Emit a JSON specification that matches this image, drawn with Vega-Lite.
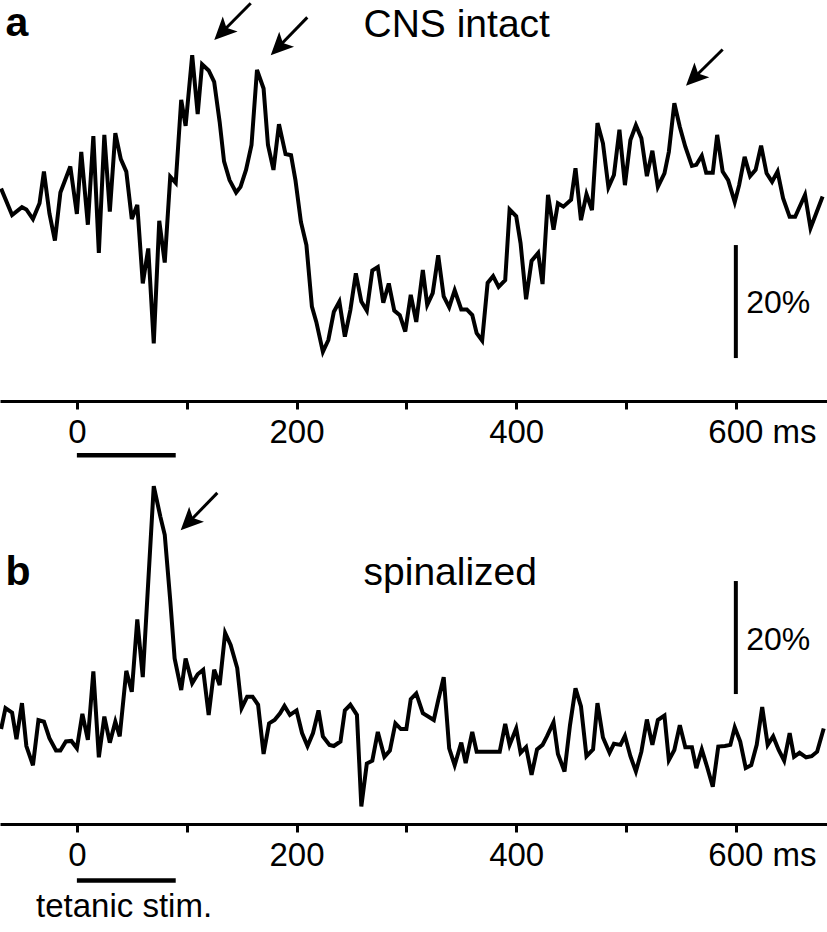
{
  "$schema": "https://vega.github.io/schema/vega-lite/v6.json",
  "padding": {"left": -7, "top": 0, "right": 0, "bottom": 0},
  "background": "white",
  "bounds": "flush",
  "spacing": 69,
  "config": {"view": {"stroke": null}, "font": "Liberation Sans"},
  "datasets": {
    "traceA": [
      {"t":-69,"v":37.6},{"t":-59,"v":32.9},{"t":-50,"v":34.3},{"t":-46,"v":33.9},{"t":-40,"v":32.2},{"t":-34,"v":35.0},{"t":-30,"v":40.6},{"t":-25,"v":33.2},{"t":-20,"v":28.4},{"t":-15,"v":36.9},{"t":-6,"v":41.5},{"t":0,"v":33.1},{"t":4,"v":44.1},{"t":10,"v":31.2},{"t":15,"v":46.9},{"t":20,"v":26.2},{"t":25,"v":47.1},{"t":30,"v":33.5},{"t":35,"v":47.4},{"t":40,"v":42.8},{"t":45,"v":40.6},{"t":50,"v":32.2},{"t":55,"v":34.7},{"t":60,"v":20.8},{"t":65,"v":27.0},{"t":70,"v":10.2},{"t":75,"v":31.9},{"t":80,"v":24.5},{"t":85,"v":39.7},{"t":90,"v":38.6},{"t":95,"v":53.3},{"t":99,"v":48.7},{"t":105,"v":61.2},{"t":110,"v":50.8},{"t":114,"v":59.6},{"t":120,"v":58.5},{"t":125,"v":56.5},{"t":130,"v":49.4},{"t":134,"v":42.4},{"t":139,"v":39.1},{"t":145,"v":36.9},{"t":149,"v":37.9},{"t":154,"v":40.9},{"t":159,"v":45.3},{"t":164,"v":58.6},{"t":170,"v":55.3},{"t":174,"v":45.3},{"t":179,"v":40.9},{"t":184,"v":49.0},{"t":190,"v":43.7},{"t":195,"v":43.5},{"t":199,"v":39.1},{"t":204,"v":31.7},{"t":209,"v":27.6},{"t":214,"v":16.7},{"t":218,"v":14.0},{"t":224,"v":8.7},{"t":229,"v":10.8},{"t":234,"v":15.8},{"t":239,"v":17.6},{"t":244,"v":11.4},{"t":249,"v":16.1},{"t":254,"v":22.6},{"t":259,"v":17.6},{"t":264,"v":16.0},{"t":269,"v":23.1},{"t":274,"v":23.7},{"t":279,"v":17.4},{"t":284,"v":20.8},{"t":289,"v":16.0},{"t":294,"v":15.2},{"t":299,"v":12.3},{"t":304,"v":18.8},{"t":309,"v":14.0},{"t":315,"v":23.2},{"t":319,"v":17.0},{"t":324,"v":19.1},{"t":329,"v":25.8},{"t":334,"v":18.5},{"t":339,"v":16.6},{"t":344,"v":19.6},{"t":350,"v":16.2},{"t":355,"v":16.2},{"t":360,"v":15.2},{"t":364,"v":12.0},{"t":369,"v":10.7},{"t":374,"v":20.9},{"t":379,"v":22.1},{"t":384,"v":20.2},{"t":390,"v":21.4},{"t":394,"v":33.9},{"t":400,"v":32.7},{"t":404,"v":27.9},{"t":409,"v":18.0},{"t":414,"v":24.8},{"t":420,"v":26.2},{"t":424,"v":20.7},{"t":429,"v":36.5},{"t":434,"v":30.3},{"t":438,"v":35.0},{"t":443,"v":34.4},{"t":450,"v":35.6},{"t":454,"v":41.2},{"t":459,"v":32.0},{"t":464,"v":36.6},{"t":469,"v":33.8},{"t":474,"v":49.2},{"t":479,"v":45.6},{"t":484,"v":37.8},{"t":489,"v":40.0},{"t":494,"v":48.0},{"t":499,"v":38.2},{"t":504,"v":46.2},{"t":509,"v":48.8},{"t":514,"v":46.5},{"t":519,"v":39.8},{"t":524,"v":44.3},{"t":529,"v":37.9},{"t":535,"v":40.3},{"t":539,"v":44.1},{"t":544,"v":52.7},{"t":549,"v":48.5},{"t":554,"v":45.0},{"t":560,"v":41.6},{"t":564,"v":41.8},{"t":569,"v":43.4},{"t":573,"v":40.4},{"t":579,"v":40.4},{"t":583,"v":47.1},{"t":588,"v":40.6},{"t":593,"v":39.1},{"t":599,"v":35.2},{"t":603,"v":38.2},{"t":608,"v":43.2},{"t":613,"v":39.8},{"t":618,"v":40.9},{"t":623,"v":45.2},{"t":628,"v":40.3},{"t":633,"v":38.8},{"t":638,"v":40.6},{"t":643,"v":35.9},{"t":649,"v":32.6},{"t":654,"v":32.6},{"t":663,"v":36.5},{"t":668,"v":30.6},{"t":679,"v":36.2}
    ],
    "traceB": [
      {"t":-69,"v":16.8},{"t":-65,"v":20.5},{"t":-59,"v":19.7},{"t":-55,"v":15.0},{"t":-50,"v":21.4},{"t":-46,"v":13.8},{"t":-40,"v":10.4},{"t":-35,"v":18.4},{"t":-30,"v":18.1},{"t":-25,"v":15.2},{"t":-19,"v":13.0},{"t":-15,"v":13.0},{"t":-10,"v":14.6},{"t":-5,"v":14.7},{"t":0,"v":13.4},{"t":5,"v":19.5},{"t":10,"v":14.9},{"t":15,"v":27.0},{"t":20,"v":11.8},{"t":25,"v":19.0},{"t":30,"v":14.4},{"t":35,"v":18.1},{"t":39,"v":15.5},{"t":45,"v":27.1},{"t":50,"v":23.4},{"t":55,"v":36.2},{"t":60,"v":26.0},{"t":70,"v":59.8},{"t":76,"v":54.4},{"t":80,"v":51.2},{"t":85,"v":39.6},{"t":89,"v":29.3},{"t":95,"v":23.7},{"t":99,"v":29.3},{"t":105,"v":24.9},{"t":110,"v":26.5},{"t":115,"v":27.3},{"t":120,"v":19.3},{"t":125,"v":27.3},{"t":130,"v":24.6},{"t":135,"v":33.8},{"t":140,"v":31.7},{"t":146,"v":27.6},{"t":150,"v":20.5},{"t":155,"v":22.5},{"t":160,"v":22.5},{"t":165,"v":21.1},{"t":170,"v":12.4},{"t":175,"v":17.8},{"t":180,"v":18.4},{"t":185,"v":19.6},{"t":189,"v":20.9},{"t":194,"v":19.3},{"t":200,"v":20.1},{"t":205,"v":16.1},{"t":210,"v":13.8},{"t":215,"v":16.1},{"t":220,"v":20.1},{"t":224,"v":15.5},{"t":230,"v":14.0},{"t":234,"v":13.8},{"t":240,"v":14.6},{"t":244,"v":20.1},{"t":249,"v":21.1},{"t":255,"v":19.3},{"t":259,"v":3.1},{"t":264,"v":10.7},{"t":269,"v":11.2},{"t":274,"v":16.3},{"t":280,"v":11.9},{"t":285,"v":13.0},{"t":290,"v":17.8},{"t":295,"v":16.8},{"t":300,"v":16.8},{"t":304,"v":22.1},{"t":309,"v":23.1},{"t":315,"v":19.6},{"t":325,"v":18.4},{"t":329,"v":21.9},{"t":334,"v":26.0},{"t":339,"v":13.4},{"t":344,"v":10.4},{"t":350,"v":14.4},{"t":354,"v":10.8},{"t":360,"v":16.3},{"t":364,"v":12.8},{"t":370,"v":12.8},{"t":378,"v":12.8},{"t":385,"v":12.8},{"t":390,"v":17.7},{"t":394,"v":14.0},{"t":400,"v":16.9},{"t":404,"v":12.6},{"t":409,"v":13.6},{"t":414,"v":8.7},{"t":419,"v":13.2},{"t":424,"v":14.0},{"t":428,"v":15.5},{"t":434,"v":18.0},{"t":438,"v":12.4},{"t":444,"v":9.3},{"t":449,"v":17.5},{"t":454,"v":24.0},{"t":459,"v":20.8},{"t":464,"v":12.0},{"t":470,"v":13.2},{"t":474,"v":21.4},{"t":479,"v":15.3},{"t":485,"v":12.6},{"t":489,"v":14.2},{"t":495,"v":14.0},{"t":499,"v":15.6},{"t":504,"v":12.0},{"t":509,"v":9.3},{"t":514,"v":12.8},{"t":519,"v":18.5},{"t":524,"v":14.0},{"t":529,"v":18.4},{"t":535,"v":19.2},{"t":539,"v":11.3},{"t":544,"v":13.1},{"t":549,"v":17.5},{"t":554,"v":13.6},{"t":560,"v":13.6},{"t":564,"v":9.9},{"t":569,"v":13.2},{"t":574,"v":10.0},{"t":579,"v":6.6},{"t":584,"v":13.7},{"t":590,"v":13.8},{"t":595,"v":14.0},{"t":599,"v":17.1},{"t":604,"v":14.6},{"t":609,"v":9.9},{"t":614,"v":10.4},{"t":619,"v":14.0},{"t":624,"v":20.7},{"t":629,"v":14.0},{"t":634,"v":15.5},{"t":639,"v":13.1},{"t":644,"v":11.2},{"t":649,"v":16.1},{"t":653,"v":11.9},{"t":658,"v":12.6},{"t":664,"v":11.8},{"t":669,"v":12.0},{"t":674,"v":12.8},{"t":680,"v":16.9}
    ],
    "barsA": [{"t":600,"v":7.6,"v2":27.6}],
    "stimA": [{"t":0,"t2":90,"v":-9.6}],
    "shaftsA": [
      {"t":158.3,"v":70.4,"t2":134.4,"v2":65.7},
      {"t":209.8,"v":67.9,"t2":185.8,"v2":63.1},
      {"t":588.0,"v":62.2,"t2":564.0,"v2":57.6}
    ],
    "headsA": [{"t":125.1,"v":63.9},{"t":176.5,"v":61.2},{"t":554.6,"v":55.8}],
    "titleA": [{"t":261,"v":64.5,"label":"CNS intact"}],
    "letterA": [{"t":-65,"v":64.6,"label":"a"}],
    "scaleLabelA": [{"t":609.5,"v":15.5,"label":"20%"}],
    "barsB": [{"t":600,"v":23.0,"v2":43.0}],
    "stimB": [{"t":0,"t2":90,"v":-10.0}],
    "shaftsB": [{"t":127.9,"v":58.6,"t2":103.9,"v2":53.8}],
    "headsB": [{"t":94.5,"v":52.0}],
    "titleB": [{"t":261,"v":42.3,"label":"spinalized"}],
    "letterB": [{"t":-65,"v":42.3,"label":"b"}],
    "scaleLabelB": [{"t":609.5,"v":30.8,"label":"20%"}],
    "stimLabelB": [{"t":-37.2,"v":-16.5,"label":"tetanic stim."}]
  },
  "vconcat": [
    {
      "width": 827,
      "height": 401,
      "encoding": {
        "x": {"field": "t", "type": "quantitative",
          "scale": {"domain": [-70, 683], "nice": false, "zero": false},
          "axis": {
            "values": [0, 100, 200, 300, 400, 500, 600],
            "title": null, "grid": false,
            "domainColor": "black", "domainWidth": 3,
            "tickColor": "black", "tickWidth": 3, "tickSize": 8,
            "labelFont": "Liberation Sans", "labelFontSize": 33, "labelColor": "black",
            "labelExpr": "datum.value == 600 ? '600 ms' : (datum.value % 200 == 0 ? datum.label : '')",
            "labelAlign": {"condition": {"test": "datum.value == 600", "value": "left"}, "value": "center"},
            "labelOffset": {"condition": {"test": "datum.value == 600", "value": -28}, "value": 0},
            "labelBaseline": "top", "labelPadding": 7,
            "labelOverlap": false, "labelFlush": false, "labelBound": false
          }
        },
        "y": {"field": "v", "type": "quantitative",
          "scale": {"domain": [0, 70.97], "nice": false, "zero": false}, "axis": null}
      },
      "layer": [
        {"data": {"name": "traceA"}, "mark": {"type": "line", "color": "black", "strokeWidth": 4, "strokeJoin": "miter"}},
        {"data": {"name": "barsA"}, "mark": {"type": "rule", "color": "black", "strokeWidth": 4}, "encoding": {"y2": {"field": "v2"}}},
        {"data": {"name": "stimA"}, "mark": {"type": "rule", "color": "black", "strokeWidth": 4.5}, "encoding": {"x2": {"field": "t2"}}},
        {"data": {"name": "shaftsA"}, "mark": {"type": "rule", "color": "black", "strokeWidth": 3}, "encoding": {"x2": {"field": "t2"}, "y2": {"field": "v2"}}},
        {"data": {"name": "headsA"}, "mark": {"type": "point", "shape": "M0,0L0.7,1.5L0,1.15L-0.7,1.5Z", "filled": true, "opacity": 1, "color": "black", "size": 900, "angle": 225, "strokeWidth": 0}},
        {"data": {"name": "titleA"}, "mark": {"type": "text", "font": "Liberation Sans", "fontSize": 39, "align": "left", "baseline": "alphabetic", "color": "black"}, "encoding": {"text": {"field": "label"}}},
        {"data": {"name": "letterA"}, "mark": {"type": "text", "font": "Liberation Sans", "fontSize": 41, "fontWeight": "bold", "align": "left", "baseline": "alphabetic", "color": "black"}, "encoding": {"text": {"field": "label"}}},
        {"data": {"name": "scaleLabelA"}, "mark": {"type": "text", "font": "Liberation Sans", "fontSize": 32, "align": "left", "baseline": "alphabetic", "color": "black"}, "encoding": {"text": {"field": "label"}}}
      ]
    },
    {
      "width": 827,
      "height": 354,
      "encoding": {
        "x": {"field": "t", "type": "quantitative",
          "scale": {"domain": [-70, 683], "nice": false, "zero": false},
          "axis": {
            "values": [0, 100, 200, 300, 400, 500, 600],
            "title": null, "grid": false,
            "domainColor": "black", "domainWidth": 3,
            "tickColor": "black", "tickWidth": 3, "tickSize": 8,
            "labelFont": "Liberation Sans", "labelFontSize": 33, "labelColor": "black",
            "labelExpr": "datum.value == 600 ? '600 ms' : (datum.value % 200 == 0 ? datum.label : '')",
            "labelAlign": {"condition": {"test": "datum.value == 600", "value": "left"}, "value": "center"},
            "labelOffset": {"condition": {"test": "datum.value == 600", "value": -28}, "value": 0},
            "labelBaseline": "top", "labelPadding": 7,
            "labelOverlap": false, "labelFlush": false, "labelBound": false
          }
        },
        "y": {"field": "v", "type": "quantitative",
          "scale": {"domain": [0, 62.65], "nice": false, "zero": false}, "axis": null}
      },
      "layer": [
        {"data": {"name": "traceB"}, "mark": {"type": "line", "color": "black", "strokeWidth": 4, "strokeJoin": "miter"}},
        {"data": {"name": "barsB"}, "mark": {"type": "rule", "color": "black", "strokeWidth": 4}, "encoding": {"y2": {"field": "v2"}}},
        {"data": {"name": "stimB"}, "mark": {"type": "rule", "color": "black", "strokeWidth": 4.5}, "encoding": {"x2": {"field": "t2"}}},
        {"data": {"name": "shaftsB"}, "mark": {"type": "rule", "color": "black", "strokeWidth": 3}, "encoding": {"x2": {"field": "t2"}, "y2": {"field": "v2"}}},
        {"data": {"name": "headsB"}, "mark": {"type": "point", "shape": "M0,0L0.7,1.5L0,1.15L-0.7,1.5Z", "filled": true, "opacity": 1, "color": "black", "size": 900, "angle": 225, "strokeWidth": 0}},
        {"data": {"name": "titleB"}, "mark": {"type": "text", "font": "Liberation Sans", "fontSize": 39, "align": "left", "baseline": "alphabetic", "color": "black"}, "encoding": {"text": {"field": "label"}}},
        {"data": {"name": "letterB"}, "mark": {"type": "text", "font": "Liberation Sans", "fontSize": 41, "fontWeight": "bold", "align": "left", "baseline": "alphabetic", "color": "black"}, "encoding": {"text": {"field": "label"}}},
        {"data": {"name": "scaleLabelB"}, "mark": {"type": "text", "font": "Liberation Sans", "fontSize": 32, "align": "left", "baseline": "alphabetic", "color": "black"}, "encoding": {"text": {"field": "label"}}},
        {"data": {"name": "stimLabelB"}, "mark": {"type": "text", "font": "Liberation Sans", "fontSize": 33, "align": "left", "baseline": "alphabetic", "color": "black"}, "encoding": {"text": {"field": "label"}}}
      ]
    }
  ]
}
